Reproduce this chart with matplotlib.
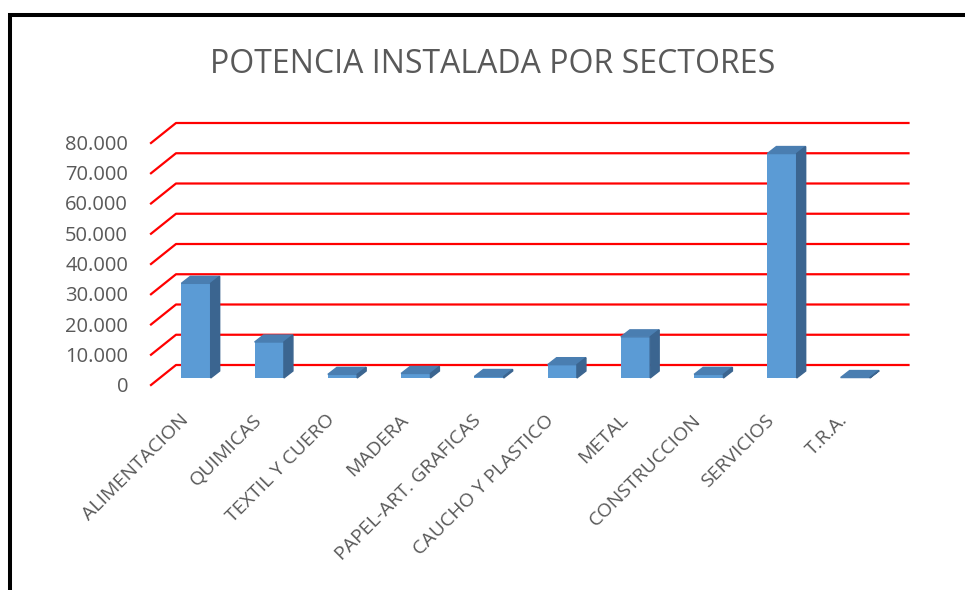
import matplotlib
matplotlib.use('Agg')
import matplotlib.pyplot as plt
from matplotlib.patches import Polygon
from matplotlib.lines import Line2D

plt.rcParams['font.family'] = ['Open Sans', 'DejaVu Sans']

# datos (kW instalados por sector)
sectores = ['ALIMENTACION', 'QUIMICAS', 'TEXTIL Y CUERO', 'MADERA',
            'PAPEL-ART. GRAFICAS', 'CAUCHO Y PLASTICO', 'METAL',
            'CONSTRUCCION', 'SERVICIOS', 'T.R.A.']
potencia = [31300, 11900, 1200, 1500, 500, 4400, 13600, 1200, 74200, 150]
ticks = [0, 10000, 20000, 30000, 40000, 50000, 60000, 70000, 80000]
tick_labels = ['0', '10.000', '20.000', '30.000', '40.000', '50.000',
               '60.000', '70.000', '80.000']

gris = '#595959'
frente = '#5B9BD5'
tapa = '#4A7EB1'
lado = '#3B6590'

W, H = 965, 590
fig = plt.figure(figsize=(W / 100, H / 100), dpi=100)
# the axes is the plane of the bars' front faces
ax = fig.add_axes([159.4 / W, (H - 378) / H, (891.9 - 159.4) / W, 242 / H])
ax.set_xlim(-0.5, len(sectores) - 0.5)
ax.set_ylim(0, 80000)
ax.axis('off')

# pixel -> data units
bb = ax.get_window_extent()
ux = len(sectores) / bb.width
uy = 80000 / bb.height

# offsets (px) from the bar plane: front edge, bar depth, back wall
fdx, fdy = -8.4, -7
bdx, bdy = 9, 7
wdx, wdy = 16.6, 13

# gridlines on the back wall + side diagonal
x0, x1 = -0.5, len(sectores) - 0.5
for t in ticks:
    ax.plot([x0 + fdx * ux, x0 + wdx * ux, x1 + wdx * ux],
            [t + fdy * uy, t + wdy * uy, t + wdy * uy],
            color='#FF0000', lw=1.6, clip_on=False, zorder=1)

# bars
ancho = 0.4
ax.bar(range(len(sectores)), potencia, width=ancho, color=frente,
       zorder=3, clip_on=False)
for i, v in enumerate(potencia):
    l, r = i - ancho / 2, i + ancho / 2
    ox, oy = bdx * ux, bdy * uy
    ax.add_patch(Polygon([(l, v), (r, v), (r + ox, v + oy), (l + ox, v + oy)],
                         closed=True, color=tapa, zorder=3, clip_on=False))
    ax.add_patch(Polygon([(r, 0), (r + ox, oy), (r + ox, v + oy), (r, v)],
                         closed=True, color=lado, zorder=3, clip_on=False))

# y labels at the front edge
for t, lab in zip(ticks, tick_labels):
    ax.text(x0 + (fdx - 23) * ux, t + (fdy - 2) * uy, lab, ha='right',
            va='center', fontsize=14.5, color=gris)

# category labels
for i, s in enumerate(sectores):
    ax.text(i - 17 * ux, -33 * uy, s, ha='right', va='top', rotation=45,
            rotation_mode='anchor', fontsize=14, color=gris)

fig.text(493 / W, 1 - 73 / H, 'POTENCIA INSTALADA POR SECTORES',
         ha='center', va='baseline', fontsize=23, color=gris)

# black frame (left and top)
fig.add_artist(Line2D([10 / W, 10 / W, 1.0], [0, 1 - 15 / H, 1 - 15 / H],
                      color='black', lw=2.9, solid_joinstyle='miter'))

fig.savefig('out.png', dpi=100)
